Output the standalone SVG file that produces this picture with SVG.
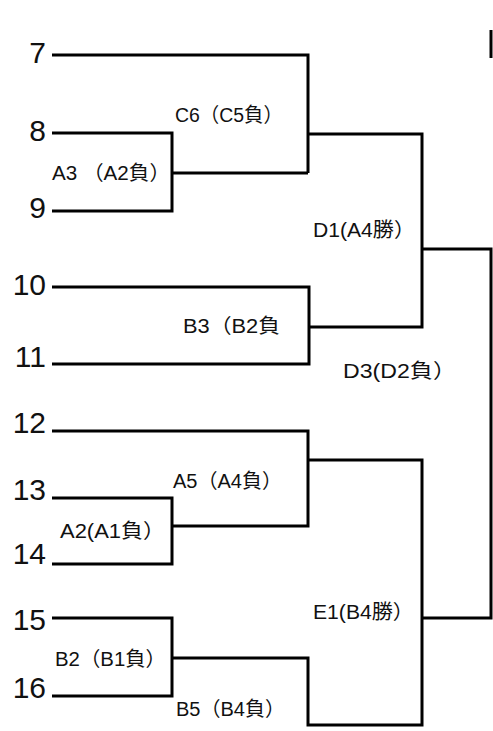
<svg xmlns="http://www.w3.org/2000/svg" width="493" height="731" viewBox="0 0 493 731">
<style>
.num{font-family:"Liberation Sans","Noto Sans CJK JP",sans-serif;font-size:30px;fill:#111;text-anchor:end}
.lbl{font-family:"Liberation Sans","Noto Sans CJK JP",sans-serif;font-size:20px;fill:#111}
.ln{fill:none;stroke:#000;stroke-width:3;stroke-linejoin:miter;stroke-linecap:butt}
</style>
<rect width="493" height="731" fill="#fff"/>
<g id="connectors" class="ln">
<path d="M52,55H308V173"/>
<path d="M52,133H172V211H52"/>
<path d="M172,173H308"/>
<path d="M308,134H422V327H309"/>
<path d="M52,287H309V364H52"/>
<path d="M422,249H491V618H422"/>
<path d="M52,431H308V526H172"/>
<path d="M52,498H172V564H52"/>
<path d="M308,460H422V725H308V658H172"/>
<path d="M52,618H172V696H52"/>
<path d="M491,30V58"/>
</g>
<g id="n7"><text class="num" x="46" y="63">7</text></g>
<g id="n8"><text class="num" x="46" y="141">8</text></g>
<g id="n9"><text class="num" x="46" y="218">9</text></g>
<g id="n10"><text class="num" x="46" y="295">10</text></g>
<g id="n11"><text class="num" x="46" y="367">11</text></g>
<g id="n12"><text class="num" x="46" y="433">12</text></g>
<g id="n13"><text class="num" x="46" y="500">13</text></g>
<g id="n14"><text class="num" x="46" y="564">14</text></g>
<g id="n15"><text class="num" x="46" y="630">15</text></g>
<g id="n16"><text class="num" x="46" y="698">16</text></g>
<g id="C6"><text class="lbl" x="175" y="122" textLength="108" lengthAdjust="spacingAndGlyphs">C6（C5負）</text></g>
<g id="A3"><text class="lbl" x="52" y="180" textLength="118" lengthAdjust="spacingAndGlyphs">A3 （A2負）</text></g>
<g id="D1"><text class="lbl" x="313" y="237" textLength="102" lengthAdjust="spacingAndGlyphs">D1(A4勝）</text></g>
<g id="B3"><text class="lbl" x="183" y="333" textLength="97" lengthAdjust="spacingAndGlyphs">B3（B2負</text></g>
<g id="D3"><text class="lbl" x="343" y="378" textLength="113" lengthAdjust="spacingAndGlyphs">D3(D2負）</text></g>
<g id="A5"><text class="lbl" x="173" y="488" textLength="109" lengthAdjust="spacingAndGlyphs">A5（A4負）</text></g>
<g id="A2"><text class="lbl" x="60" y="538" textLength="105" lengthAdjust="spacingAndGlyphs">A2(A1負）</text></g>
<g id="E1"><text class="lbl" x="313" y="619" textLength="101" lengthAdjust="spacingAndGlyphs">E1(B4勝）</text></g>
<g id="B2"><text class="lbl" x="55" y="666" textLength="111" lengthAdjust="spacingAndGlyphs">B2（B1負）</text></g>
<g id="B5"><text class="lbl" x="176" y="716" textLength="109" lengthAdjust="spacingAndGlyphs">B5（B4負）</text></g>
</svg>
